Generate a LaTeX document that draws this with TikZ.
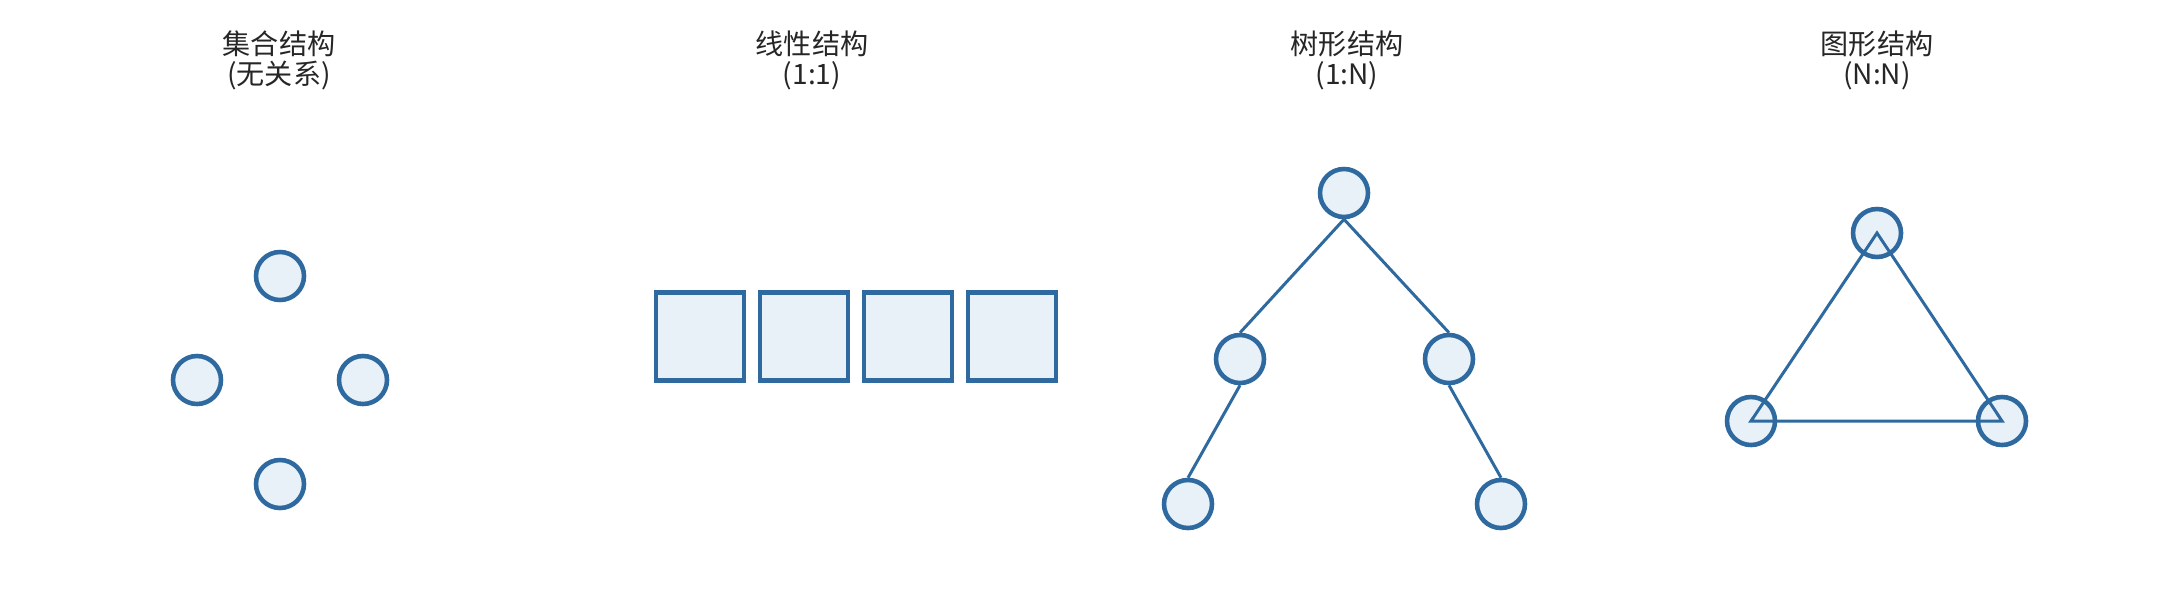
\documentclass[tikz,border=0pt]{standalone}
\usepackage{fontspec}
\setmainfont{Noto Sans CJK SC}
\usepackage{tikz}
\usetikzlibrary{calc}

\definecolor{nodeblue}{RGB}{46,106,159}
\definecolor{nodefill}{RGB}{232,240,248}

\tikzset{
  elem/.style={circle, draw=nodeblue, fill=nodefill, line width=1.3pt, minimum size=0.48cm, inner sep=0pt},
  cell/.style={rectangle, draw=nodeblue, fill=nodefill, line width=1.15pt, minimum size=0.88cm, inner sep=0pt},
  link/.style={draw=nodeblue, line width=0.85pt},
  title/.style={align=center, text=black!85, font=\fontsize{8}{8.5}\selectfont}
}

\begin{document}
\begin{tikzpicture}
                \useasboundingbox (0,0) rectangle (21.57,5.97);

                % Titles
                \node[title] (tset) at (2.79,5.37) {集合结构\\(无关系)};
                \node[title] (tlin) at (8.12,5.37) {线性结构\\(1:1)};
                \node[title] (ttree) at (13.47,5.37) {树形结构\\(1:N)};
                \node[title] (tgraph) at (18.77,5.37) {图形结构\\(N:N)};

                % Set
                \node[elem] (s1) at (2.80,3.21) {};
                \node[elem] (s2) at (1.97,2.17) {};
                \node[elem] (s3) at (3.63,2.17) {};
                \node[elem] (s4) at (2.80,1.13) {};

                % Linear
                \foreach \i/\x in {1/7.00, 2/8.04, 3/9.08, 4/10.12}
                    \node[cell] (q\i) at (\x,2.605) {};

                % Tree
                \node[elem] (t1) at (13.44,4.04) {};
                \node[elem] (t2) at (12.40,2.38) {};
                \node[elem] (t3) at (14.49,2.38) {};
                \node[elem] (t4) at (11.88,0.93) {};
                \node[elem] (t5) at (15.01,0.93) {};
                \draw[link] (t1.south) -- (t2.north);
                \draw[link] (t1.south) -- (t3.north);
                \draw[link] (t2.south) -- (t4.north);
                \draw[link] (t3.south) -- (t5.north);

                % Graph
                \node[elem] (g1) at (18.77,3.64) {};
                \node[elem] (g2) at (17.51,1.76) {};
                \node[elem] (g3) at (20.02,1.76) {};
                \draw[link] (g1.center) -- (g2.center) -- (g3.center) -- cycle;
            \end{tikzpicture}
\end{document}
